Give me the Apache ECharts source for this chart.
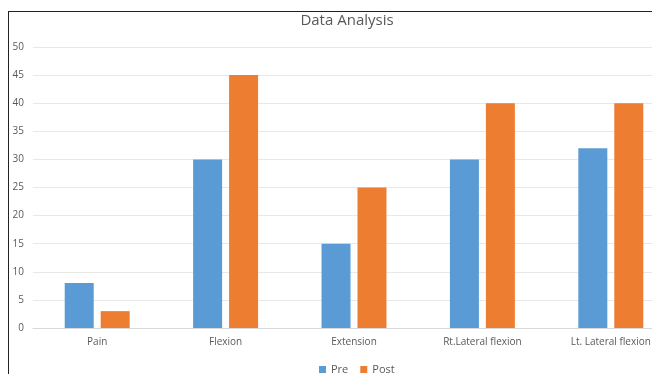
<!DOCTYPE html>
<html><head><meta charset="utf-8">
<script src="https://cdn.jsdelivr.net/npm/echarts@6/dist/echarts.min.js"></script>
<style>html,body{margin:0;padding:0;background:#fff;overflow:hidden;width:652px;height:374px}#c{width:690px;height:374px;position:absolute;left:0;top:0}
#frame{position:absolute;left:8px;top:11px;width:700px;height:400px;border:1.5px solid #222;box-sizing:border-box;pointer-events:none}</style>
</head><body><div id="c"></div><div id="frame"></div>
<script>
const categories = ['Pain', 'Flexion', 'Extension', 'Rt.Lateral flexion', 'Lt. Lateral flexion'];
const preValues = [8, 30, 15, 30, 32];
const postValues = [3, 45, 25, 40, 40];
const seriesNames = ['Pre', 'Post'];

const chart = echarts.init(document.getElementById('c'), null, {renderer: 'canvas'});
const font = '"Open Sans", "Liberation Sans", sans-serif';
chart.setOption({
  animation: false,
  textStyle: {fontFamily: font},
  title: {text: 'Data Analysis', left: 342, top: 8, textAlign: 'center',
    textStyle: {fontFamily: font, fontSize: 15, fontWeight: 'normal', color: '#595959'}},
  legend: {data: seriesNames, bottom: -6, left: 314, itemWidth: 7, itemHeight: 7, itemGap: 12,
    icon: 'rect', textStyle: {fontFamily: font, fontSize: 11, color: '#595959'}},
  grid: {left: 33, top: 47, width: 642, height: 281, containLabel: false},
  xAxis: {type: 'category', data: categories,
    axisLine: {lineStyle: {color: '#d9d9d9'}}, axisTick: {show: false},
    axisLabel: {color: '#595959', fontSize: 10, margin: 9, fontFamily: font}},
  yAxis: {type: 'value', min: 0, max: 50, interval: 5,
    axisLine: {show: false}, axisTick: {show: false},
    splitLine: {lineStyle: {color: '#e8e8e8'}},
    axisLabel: {color: '#595959', fontSize: 10, margin: 9, fontFamily: font}},
  series: [
    {name: seriesNames[0], type: 'bar', data: preValues, barWidth: 29, barGap: '24%',
      itemStyle: {color: '#5B9BD5'}},
    {name: seriesNames[1], type: 'bar', data: postValues, barWidth: 29,
      itemStyle: {color: '#ED7D31'}}
  ]
});
</script></body></html>
